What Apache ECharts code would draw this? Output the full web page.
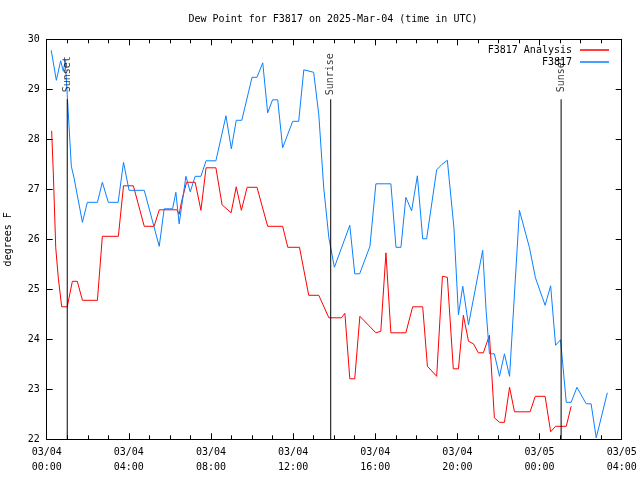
<!DOCTYPE html>
<html>
<head>
<meta charset="utf-8">
<script src="https://cdn.jsdelivr.net/npm/echarts@6/dist/echarts.min.js"></script>
<style>html,body{margin:0;padding:0;background:#fff;}#c{width:640px;height:480px;}</style>
</head>
<body>
<div id="c"></div>
<script>
// Hours since 2025-03-04 00:00 UTC
var analysisHours = [0.24,0.32,0.44,0.57,0.73,1.00,1.25,1.49,1.74,2.47,2.71,3.49,3.74,4.22,4.75,5.23,5.48,6.34,6.45,6.57,6.81,7.23,7.51,7.76,8.24,8.54,8.98,9.23,9.48,9.76,10.24,10.76,11.49,11.74,12.31,12.76,13.25,13.74,14.35,14.52,14.76,15.00,15.25,16.03,16.27,16.52,16.76,17.49,17.82,18.31,18.54,18.99,19.27,19.51,19.80,20.05,20.29,20.54,20.78,21.02,21.26,21.56,21.80,22.05,22.29,22.54,22.78,23.54,23.79,24.27,24.54,24.78,25.30,25.54];
var analysisValues = [28.17,27.35,25.83,25.21,24.65,24.65,25.16,25.16,24.78,24.78,26.06,26.06,27.07,27.07,26.26,26.26,26.59,26.59,26.50,26.76,27.14,27.14,26.58,27.43,27.43,26.69,26.53,27.05,26.58,27.04,27.04,26.26,26.26,25.84,25.84,24.88,24.88,24.43,24.43,24.52,23.21,23.21,24.46,24.13,24.16,25.73,24.13,24.13,24.65,24.65,23.46,23.26,25.26,25.24,23.41,23.41,24.48,23.96,23.91,23.73,23.73,24.08,22.43,22.34,22.34,23.04,22.55,22.55,22.86,22.86,22.15,22.26,22.26,22.66];

var obsHours = [0.22,0.47,0.68,0.81,0.90,1.00,1.20,1.33,1.74,1.98,2.47,2.71,3.00,3.48,3.74,4.01,4.75,5.48,5.72,6.13,6.29,6.45,6.78,6.99,7.23,7.51,7.76,8.24,8.73,8.99,9.23,9.50,10.00,10.24,10.52,10.76,11.00,11.25,11.49,11.98,12.27,12.52,13.00,13.25,13.49,13.74,14.01,14.76,15.00,15.24,15.74,16.03,16.76,17.01,17.25,17.49,17.77,18.05,18.31,18.50,18.99,19.25,19.51,19.83,20.05,20.26,20.54,21.23,21.40,21.56,21.80,22.05,22.29,22.54,23.02,23.51,23.80,24.27,24.54,24.78,25.02,25.30,25.54,25.82,26.27,26.51,26.76,27.30];
var obsValues = [29.78,29.18,29.57,29.36,29.58,28.89,27.46,27.23,26.34,26.74,26.74,27.14,26.74,26.74,27.54,26.98,26.98,25.86,26.61,26.61,26.94,26.31,27.26,26.95,27.26,27.26,27.57,27.57,28.47,27.81,28.38,28.38,29.24,29.24,29.53,28.53,28.79,28.79,27.83,28.36,28.36,29.39,29.34,28.49,27.03,26.03,25.44,26.28,25.31,25.31,25.86,27.11,27.11,25.84,25.84,26.84,26.57,27.27,26.01,26.01,27.39,27.50,27.58,26.23,24.49,25.06,24.29,25.78,24.56,23.71,23.71,23.26,23.71,23.26,26.58,25.83,25.23,24.68,25.07,23.88,23.99,22.74,22.74,23.04,22.71,22.71,22.03,22.93];

var sunHours = [1.00, 13.83, 25.05];
var sunLabels = ['Sunset', 'Sunrise', 'Sunset'];

var xTickLabels = ['03/04\n00:00','03/04\n04:00','03/04\n08:00','03/04\n12:00','03/04\n16:00','03/04\n20:00','03/05\n00:00','03/05\n04:00'];

var seriesNames = ['F3817 Analysis', 'F3817'];
var titleText = 'Dew Point for F3817 on 2025-Mar-04 (time in UTC)';
var yName = 'degrees F';

function pairs(xs, ys) { return xs.map(function (x, i) { return [x, ys[i]]; }); }

var FONT = 'DejaVu Sans Mono';
var axisCommon = {
  axisLine: { show: true, onZero: false, lineStyle: { color: '#000', width: 1 } },
  splitLine: { show: false }
};

var series = [
  { name: seriesNames[0], type: 'line', data: pairs(analysisHours, analysisValues), showSymbol: false, symbol: 'none',
    lineStyle: { color: '#ff0000', width: 1 }, itemStyle: { color: '#ff0000' }, z: 3 },
  { name: seriesNames[1], type: 'line', data: pairs(obsHours, obsValues), showSymbol: false, symbol: 'none',
    lineStyle: { color: '#0a80ff', width: 1 }, itemStyle: { color: '#0a80ff' }, z: 3 }
];
sunHours.forEach(function (h, i) {
  series.push({ type: 'line', data: [[h, 22], [h, 28.8]], showSymbol: false, symbol: 'none',
    lineStyle: { color: '#000', width: 1 }, z: 4, silent: true });
  series.push({ type: 'scatter', data: [[h, 29.3]], symbolSize: 0, z: 5, silent: true,
    label: { show: true, position: 'inside', rotate: 90, formatter: sunLabels[i],
      fontFamily: FONT, fontSize: 10, color: '#000' } });
});

var chart = echarts.init(document.getElementById('c'), null, { renderer: 'canvas' });
chart.setOption({
  animation: false,
  backgroundColor: '#fff',
  grid: { left: 46.7, right: 18.3, top: 39.3, bottom: 40.7, containLabel: false, outerBoundsMode: 'none' },
  graphic: [{ type: 'text', x: 333, y: 19, style: { text: titleText, font: '10px "' + FONT + '"', fill: '#000',
    textAlign: 'center', textVerticalAlign: 'middle' } }],
  legend: {
    data: seriesNames.map(function (n) { return { name: n, icon: 'rect' }; }),
    orient: 'vertical', right: 26, top: 39, align: 'right',
    itemWidth: 29, itemHeight: 1.5, itemGap: 0,
    textStyle: { fontFamily: FONT, fontSize: 10, color: '#000', lineHeight: 12, padding: [0, 3, 0, 0] }
  },
  xAxis: [
    Object.assign({ type: 'value', position: 'bottom', min: 0, max: 28, interval: 4,
      axisTick: { show: true, inside: true, length: 6, lineStyle: { color: '#000' } },
      minorTick: { show: true, splitNumber: 4, length: 4, lineStyle: { color: '#000' } },
      axisLabel: { show: true, margin: 6, fontFamily: FONT, fontSize: 10, color: '#000', lineHeight: 15,
        formatter: function (v) { return xTickLabels[Math.round(v / 4)]; } } }, axisCommon),
    Object.assign({ type: 'value', position: 'top', min: 0, max: 28, interval: 4,
      axisTick: { show: true, inside: true, length: 6, lineStyle: { color: '#000' } },
      minorTick: { show: true, splitNumber: 4, length: 4, lineStyle: { color: '#000' } },
      axisLabel: { show: false } }, axisCommon)
  ],
  yAxis: [
    Object.assign({ type: 'value', position: 'left', min: 22, max: 30, interval: 1,
      name: yName, nameLocation: 'middle', nameRotate: 90, nameGap: 33,
      nameTextStyle: { fontFamily: FONT, fontSize: 10, color: '#000' },
      axisTick: { show: true, inside: true, length: 6, lineStyle: { color: '#000' } },
      axisLabel: { show: true, margin: 7, fontFamily: FONT, fontSize: 10, color: '#000' } }, axisCommon),
    Object.assign({ type: 'value', position: 'right', min: 22, max: 30, interval: 1,
      axisTick: { show: true, inside: true, length: 6, lineStyle: { color: '#000' } },
      axisLabel: { show: false } }, axisCommon)
  ],
  series: series
});
</script>
</body>
</html>
